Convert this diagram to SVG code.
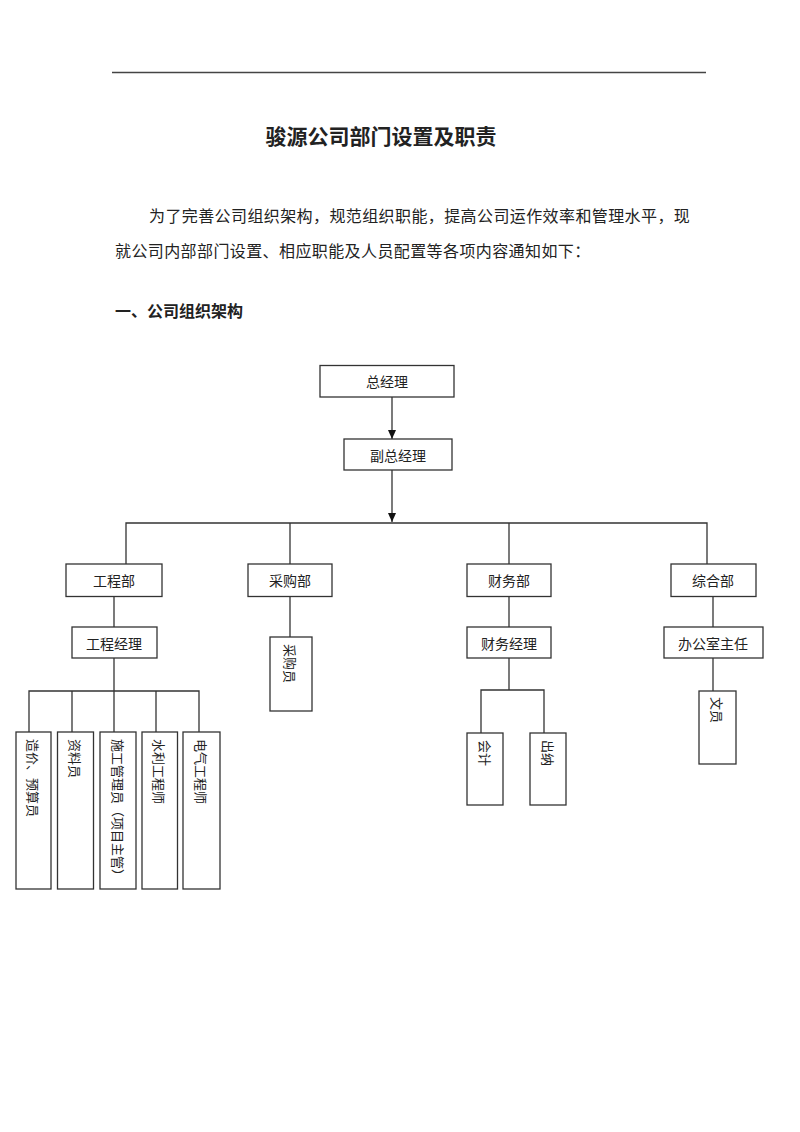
<svg xmlns="http://www.w3.org/2000/svg" width="800" height="1132" viewBox="0 0 800 1132">
<style>
text{font-family:"Noto Sans CJK SC","Noto Sans",sans-serif;fill:#222;}
.box rect{fill:#fff;stroke:#333;stroke-width:1.3;}
.box text{font-size:14px;text-anchor:middle;dominant-baseline:central;}
.v text{font-size:13px;text-anchor:start;dominant-baseline:central;}
#connectors path{fill:none;stroke:#333;stroke-width:1.3;}
.para{font-size:16px;letter-spacing:0.4px;}
</style>
<defs>
<marker id="arr" markerWidth="10" markerHeight="10" refX="9" refY="5" orient="auto" markerUnits="userSpaceOnUse">
<path d="M0,1 L9,5 L0,9 Z" fill="#111"/>
</marker>
</defs>
<rect width="800" height="1132" fill="#fff"/>
<line x1="112" y1="72.5" x2="706" y2="72.5" stroke="#444" stroke-width="1.3"/>
<text x="381" y="135" font-size="21" font-weight="bold" text-anchor="middle" dominant-baseline="central">骏源公司部门设置及职责</text>
<text class="para" x="149" y="215" dominant-baseline="central">为了完善公司组织架构，规范组织职能，提高公司运作效率和管理水平，现</text>
<text class="para" x="115" y="250" dominant-baseline="central">就公司内部部门设置、相应职能及人员配置等各项内容通知如下：</text>
<text x="115" y="310" font-size="16" font-weight="bold" dominant-baseline="central">一、公司组织架构</text>

<g id="connectors">
<path d="M392,397 V439" marker-end="url(#arr)"/>
<path d="M392,470 V522" marker-end="url(#arr)"/>
<path d="M126,564 V523 H707 V564"/>
<path d="M290,523 V564"/>
<path d="M509,523 V564"/>
<path d="M114,597 V627"/>
<path d="M114,658 V691"/>
<path d="M29,732 V691 H199 V732"/>
<path d="M72,691 V732"/>
<path d="M114,691 V732"/>
<path d="M156,691 V732"/>
<path d="M290,597 V637"/>
<path d="M509,597 V627"/>
<path d="M509,658 V690"/>
<path d="M481,733 V690 H544 V733"/>
<path d="M713,597 V627"/>
<path d="M713,658 V691"/>
</g>

<g id="n-zjl" class="box"><rect x="320" y="365.5" width="134" height="31.5"/><text x="387" y="381">总经理</text></g>
<g id="n-fzjl" class="box"><rect x="344" y="439" width="108" height="31"/><text x="398" y="455">副总经理</text></g>
<g id="n-gcb" class="box"><rect x="66" y="564" width="96" height="32.5"/><text x="114" y="580">工程部</text></g>
<g id="n-cgb" class="box"><rect x="248" y="564" width="84" height="32.5"/><text x="290" y="580">采购部</text></g>
<g id="n-cwb" class="box"><rect x="467" y="564" width="84" height="32.5"/><text x="509" y="580">财务部</text></g>
<g id="n-zhb" class="box"><rect x="671" y="564" width="85" height="32.5"/><text x="713" y="580">综合部</text></g>
<g id="n-gcjl" class="box"><rect x="72" y="627" width="85" height="31"/><text x="114" y="643">工程经理</text></g>
<g id="n-cwjl" class="box"><rect x="467" y="627" width="84" height="31"/><text x="509" y="643">财务经理</text></g>
<g id="n-bgszr" class="box"><rect x="664" y="627" width="99" height="31"/><text x="713" y="643">办公室主任</text></g>

<g id="n-cgy" class="box v"><rect x="270" y="637" width="42" height="74"/><text transform="translate(290,644) rotate(90)">采购员</text></g>
<g id="n-zjy" class="box v"><rect x="16" y="732" width="35" height="157"/><text transform="translate(33,739) rotate(90)">造价、预算员</text></g>
<g id="n-zly" class="box v"><rect x="57.5" y="732" width="36" height="157"/><text transform="translate(75,739) rotate(90)">资料员</text></g>
<g id="n-sggly" class="box v"><rect x="100" y="732" width="36" height="157"/><text transform="translate(118,739) rotate(90)">施工管理员（项目主管）</text></g>
<g id="n-slgcs" class="box v"><rect x="142" y="732" width="35.5" height="157"/><text transform="translate(159.5,739) rotate(90)">水利工程师</text></g>
<g id="n-dqgcs" class="box v"><rect x="183" y="732" width="37" height="157"/><text transform="translate(201.5,739) rotate(90)">电气工程师</text></g>
<g id="n-kj" class="box v"><rect x="467" y="733" width="36" height="72"/><text transform="translate(485,740) rotate(90)">会计</text></g>
<g id="n-cn" class="box v"><rect x="530" y="733" width="36" height="72"/><text transform="translate(548,740) rotate(90)">出纳</text></g>
<g id="n-wy" class="box v"><rect x="699" y="691" width="37" height="73"/><text transform="translate(717.5,697) rotate(90)">文员</text></g>
</svg>
